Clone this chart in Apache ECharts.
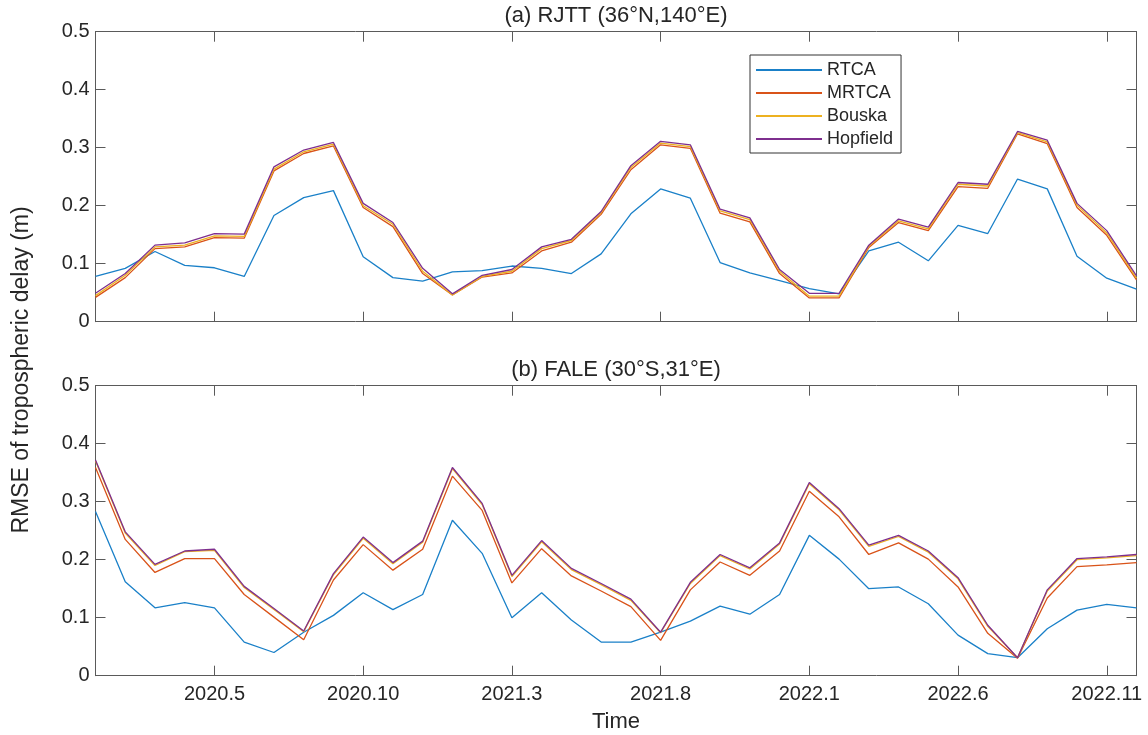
<!DOCTYPE html>
<html>
<head>
<meta charset="utf-8">
<script src="https://cdn.jsdelivr.net/npm/echarts@6/dist/echarts.min.js"></script>
<style>
html,body{margin:0;padding:0;background:#fff;}
#chart{width:1148px;height:735px;}
</style>
</head>
<body>
<div id="chart"></div>
<script>
const months = ['2020.1','2020.2','2020.3','2020.4','2020.5','2020.6','2020.7','2020.8','2020.9','2020.10','2020.11','2020.12',
  '2021.1','2021.2','2021.3','2021.4','2021.5','2021.6','2021.7','2021.8','2021.9','2021.10','2021.11','2021.12',
  '2022.1','2022.2','2022.3','2022.4','2022.5','2022.6','2022.7','2022.8','2022.9','2022.10','2022.11','2022.12'];
const seriesNames = ['RTCA','MRTCA','Bouska','Hopfield'];
const titleA = '(a) RJTT (36°N,140°E)';
const titleB = '(b) FALE (30°S,31°E)';
const yLabel = 'RMSE of tropospheric delay (m)';
const xLabel = 'Time';

// Panel (a) RJTT
const rtcaA = [0.078,0.092,0.121,0.097,0.093,0.078,0.183,0.214,0.226,0.112,0.076,0.070,0.086,0.088,0.096,0.092,0.083,0.117,0.186,0.229,0.213,0.102,0.084,0.071,0.057,0.048,0.122,0.137,0.105,0.166,0.152,0.246,0.229,0.113,0.075,0.056];
const mrtcaA = [0.042,0.076,0.126,0.129,0.145,0.144,0.260,0.290,0.303,0.197,0.164,0.083,0.046,0.077,0.084,0.122,0.137,0.185,0.262,0.305,0.299,0.187,0.172,0.083,0.041,0.041,0.128,0.171,0.157,0.233,0.230,0.324,0.307,0.197,0.149,0.072];
const bouskaA = [0.045,0.080,0.129,0.132,0.148,0.147,0.263,0.293,0.306,0.200,0.168,0.087,0.046,0.078,0.087,0.126,0.140,0.188,0.266,0.308,0.302,0.191,0.176,0.087,0.044,0.044,0.130,0.174,0.160,0.237,0.234,0.326,0.310,0.201,0.153,0.075];
const hopfieldA = [0.049,0.083,0.132,0.136,0.152,0.151,0.267,0.296,0.309,0.204,0.171,0.092,0.048,0.080,0.090,0.129,0.142,0.190,0.269,0.311,0.305,0.194,0.179,0.090,0.049,0.049,0.132,0.177,0.163,0.240,0.237,0.328,0.313,0.204,0.157,0.079];

// Panel (b) FALE
const rtcaB = [0.283,0.162,0.117,0.126,0.117,0.058,0.040,0.075,0.104,0.143,0.114,0.140,0.268,0.211,0.100,0.143,0.096,0.058,0.058,0.075,0.094,0.120,0.106,0.140,0.242,0.201,0.150,0.153,0.124,0.070,0.038,0.031,0.081,0.113,0.123,0.117];
const mrtcaB = [0.359,0.235,0.178,0.202,0.202,0.140,0.101,0.062,0.165,0.226,0.182,0.218,0.344,0.285,0.160,0.219,0.172,0.146,0.119,0.061,0.148,0.196,0.173,0.215,0.318,0.274,0.209,0.229,0.201,0.153,0.073,0.030,0.134,0.188,0.191,0.195];
const bouskaB = [0.370,0.246,0.190,0.214,0.216,0.152,0.114,0.076,0.174,0.237,0.193,0.230,0.357,0.295,0.171,0.231,0.183,0.157,0.130,0.074,0.159,0.207,0.184,0.227,0.331,0.286,0.223,0.240,0.213,0.167,0.085,0.031,0.146,0.200,0.203,0.207];
const hopfieldB = [0.372,0.248,0.192,0.215,0.218,0.154,0.116,0.077,0.176,0.239,0.195,0.232,0.359,0.297,0.173,0.233,0.185,0.159,0.132,0.075,0.161,0.209,0.186,0.229,0.333,0.288,0.225,0.242,0.215,0.169,0.087,0.031,0.148,0.202,0.205,0.209];

const colors = ['#1a80c8','#D95319','#EDB120','#7E2F8E'];
const FONT = '"Liberation Sans", Arial, Helvetica, sans-serif';
const TXT = '#262626';
const AX = '#5a5a5a';

const tickEvery = (idx) => idx % 5 === 4;

function xAx(grid, pos, showLabels, name) {
  return {
    type: 'category', gridIndex: grid, position: pos, data: months, boundaryGap: false,
    axisLine: {show: true, onZero: false, lineStyle: {color: AX, width: 1}},
    axisTick: {show: true, inside: true, length: 10, interval: tickEvery, lineStyle: {color: AX, width: 1}},
    axisLabel: {show: showLabels, interval: tickEvery, margin: 9, fontSize: 20, color: TXT, fontFamily: FONT},
    splitLine: {show: false},
    name: name || '', nameLocation: 'middle', nameGap: 35,
    nameTextStyle: {fontSize: 22, color: TXT, fontFamily: FONT}
  };
}
function yAx(grid, pos, showLabels) {
  return {
    type: 'value', gridIndex: grid, position: pos, min: 0, max: 0.5, interval: 0.1,
    axisLine: {show: true, lineStyle: {color: AX, width: 1}},
    axisTick: {show: true, inside: true, length: 10, lineStyle: {color: AX, width: 1}},
    axisLabel: {show: showLabels, margin: 6, fontSize: 20, color: TXT, fontFamily: FONT},
    splitLine: {show: false}
  };
}

const dataA = [rtcaA, mrtcaA, bouskaA, hopfieldA];
const dataB = [rtcaB, mrtcaB, bouskaB, hopfieldB];
const series = [];
[dataA, dataB].forEach((set, p) => {
  set.forEach((arr, k) => {
    series.push({
      type: 'line', name: seriesNames[k], data: arr,
      xAxisIndex: p * 2, yAxisIndex: p * 2,
      showSymbol: false, symbol: 'none', smooth: false,
      lineStyle: {color: colors[k], width: 1.3},
      itemStyle: {color: colors[k]},
      emphasis: {disabled: true}
    });
  });
});

const chart = echarts.init(document.getElementById('chart'), null, {renderer: 'canvas'});
chart.setOption({
  animation: false,
  backgroundColor: '#ffffff',
  grid: [
    {left: 95.5, top: 31.7, width: 1041, height: 290, containLabel: false},
    {left: 95.5, top: 385.7, width: 1041, height: 290, containLabel: false}
  ],
  xAxis: [xAx(0, 'bottom', false), xAx(0, 'top', false), xAx(1, 'bottom', true, xLabel), xAx(1, 'top', false)],
  yAxis: [yAx(0, 'left', true), yAx(0, 'right', false), yAx(1, 'left', true), yAx(1, 'right', false)],
  legend: {
    data: seriesNames, orient: 'vertical', left: 750, top: 55,
    icon: 'rect', itemWidth: 66, itemHeight: 2, itemGap: 5,
    padding: [6, 8, 5, 6],
    backgroundColor: '#ffffff', borderColor: '#333333', borderWidth: 1,
    selectedMode: false,
    textStyle: {fontSize: 18, color: TXT, fontFamily: FONT}
  },
  graphic: [
    {type: 'text', x: 616, y: 16, style: {text: titleA, fontSize: 22, fill: TXT, fontFamily: FONT, align: 'center', verticalAlign: 'middle'}},
    {type: 'text', x: 616, y: 370, style: {text: titleB, fontSize: 22, fill: TXT, fontFamily: FONT, align: 'center', verticalAlign: 'middle'}},
    {type: 'text', x: 22, y: 370, rotation: Math.PI / 2, style: {text: yLabel, fontSize: 23, fill: TXT, fontFamily: FONT, align: 'center', verticalAlign: 'middle'}}
  ],
  series: series
});
</script>
</body>
</html>
